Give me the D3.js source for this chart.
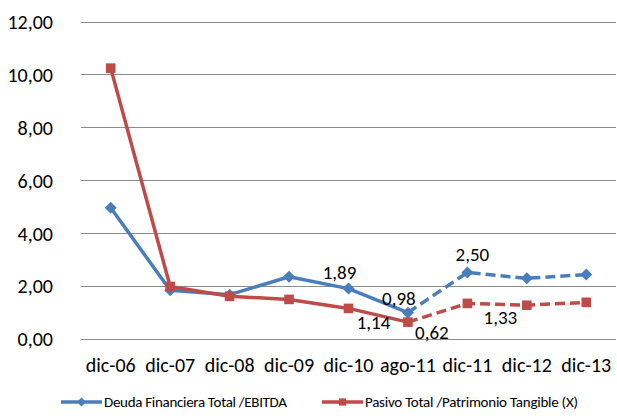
<!DOCTYPE html>
<html>
<head>
<meta charset="utf-8">
<script src="https://cdn.jsdelivr.net/npm/d3@7"></script>
<style>
  html, body { margin: 0; padding: 0; background: #fff; }
  svg { display: block; }
  text { font-family: Carlito, Calibri, Lato, sans-serif; fill: #000; }
</style>
</head>
<body>
<svg id="chart" width="617" height="419"></svg>
<script>
// Periods on the category axis
const periods = ["dic-06", "dic-07", "dic-08", "dic-09", "dic-10", "ago-11", "dic-11", "dic-12", "dic-13"];
// Deuda Financiera Total / EBITDA
const deudaEbitda = [4.95, 1.83, 1.66, 2.34, 1.89, 0.98, 2.50, 2.28, 2.42];
// Pasivo Total / Patrimonio Tangible (X)
const pasivoPatrimonio = [10.24, 1.97, 1.60, 1.48, 1.14, 0.62, 1.33, 1.26, 1.37];
// Value axis ticks
const yTicks = [0, 2, 4, 6, 8, 10, 12];
// Index of the last actual period; later points are projections (dashed)
const lastActual = 5;
// Which points carry a value label
const blueLabelIdx = [4, 5, 6];
const redLabelIdx = [4, 5, 6];
// Label offsets from the point (dx, dy to text middle)
const blueLabelOffset = { 4: [-9, -16], 5: [-9, -14], 6: [5, -18] };
const redLabelOffset = { 4: [25, 14], 5: [24, 10], 6: [33, 14] };

const series = [
  { name: "Deuda Financiera Total /EBITDA", values: deudaEbitda, color: "#4A7EBB", marker: "diamond", labels: blueLabelIdx, offs: blueLabelOffset },
  { name: "Pasivo Total /Patrimonio Tangible (X)", values: pasivoPatrimonio, color: "#BE4B48", marker: "square", labels: redLabelIdx, offs: redLabelOffset }
];

const svg = d3.select("#chart");
const plot = { left: 81, right: 616, top: 21.7, bottom: 338.5 };

const x = d3.scaleBand().domain(periods).range([plot.left, plot.right]);
const y = d3.scaleLinear().domain([0, 12]).range([plot.bottom, plot.top]);
const fmt = v => d3.format(".2f")(v).replace(".", ",");

// Gridlines
svg.append("g").selectAll("line").data(yTicks).join("line")
  .attr("x1", plot.left).attr("x2", plot.right)
  .attr("y1", d => Math.round(y(d)) + 0.5).attr("y2", d => Math.round(y(d)) + 0.5)
  .attr("stroke", "#8C8C8C").attr("stroke-width", 1);

// Y axis labels
const yAxis = d3.axisLeft(y).tickValues(yTicks).tickFormat(fmt).tickSize(0).tickPadding(0);
const yg = svg.append("g").attr("transform", `translate(${plot.left - 28},0)`).call(yAxis);
yg.select(".domain").remove();
yg.selectAll("text").attr("font-size", 20).attr("font-family", null).attr("dy", "0.36em");

// X axis labels
const xAxis = d3.axisBottom(x).tickSize(0).tickPadding(0);
const xg = svg.append("g").attr("transform", `translate(0,${plot.bottom + 26})`).call(xAxis);
xg.select(".domain").remove();
xg.selectAll("text").attr("font-size", 20).attr("font-family", null).attr("dy", "0.36em");

const cx = i => x(periods[i]) + x.bandwidth() / 2;

function drawMarker(g, type, color, px, py, s) {
  if (type === "diamond") {
    g.append("path")
      .attr("d", `M${px},${py - s}L${px + s},${py}L${px},${py + s}L${px - s},${py}Z`)
      .attr("fill", color);
  } else {
    g.append("rect").attr("x", px - s * 0.8).attr("y", py - s * 0.8)
      .attr("width", s * 1.6).attr("height", s * 1.6).attr("fill", color);
  }
}

const line = d3.line().x(d => cx(d.i)).y(d => y(d.v));

series.forEach(s => {
  const g = svg.append("g");
  const pts = s.values.map((v, i) => ({ v, i }));
  g.append("path").datum(pts.slice(0, lastActual + 1)).attr("d", line)
    .attr("fill", "none").attr("stroke", s.color).attr("stroke-width", 3.5)
    .attr("stroke-linejoin", "round");
  g.append("path").datum(pts.slice(lastActual)).attr("d", line)
    .attr("fill", "none").attr("stroke", s.color).attr("stroke-width", 3.5)
    .attr("stroke-dasharray", "10,5");
  pts.forEach(p => drawMarker(g, s.marker, s.color, cx(p.i), y(p.v), 6));
  s.labels.forEach(i => {
    g.append("text")
      .attr("x", cx(i) + s.offs[i][0]).attr("y", y(s.values[i]) + s.offs[i][1])
      .attr("dy", "0.36em")
      .attr("text-anchor", "middle").attr("font-size", 19)
      .text(fmt(s.values[i]));
  });
});

// Legend
const legend = [
  { s: series[0], x0: 61, x1: 102, tx: 104, w: 183 },
  { s: series[1], x0: 322, x1: 363, tx: 365, w: 213 }
];
legend.forEach(l => {
  const g = svg.append("g");
  const ly = 402;
  g.append("line").attr("x1", l.x0).attr("x2", l.x1).attr("y1", ly).attr("y2", ly)
    .attr("stroke", l.s.color).attr("stroke-width", 3.5);
  drawMarker(g, l.s.marker, l.s.color, (l.x0 + l.x1) / 2, ly, 4.5);
  g.append("text").attr("x", l.tx).attr("y", ly).attr("dy", "0.36em")
    .attr("font-size", 15).attr("textLength", l.w).attr("lengthAdjust", "spacing")
    .text(l.s.name);
});
</script>
</body>
</html>
